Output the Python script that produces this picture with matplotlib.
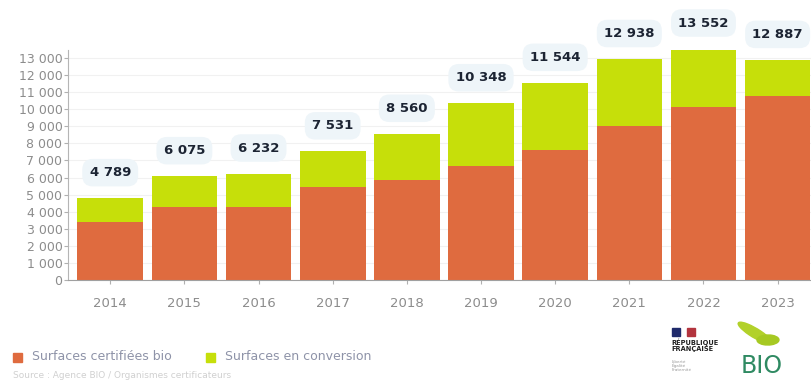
import matplotlib.pyplot as plt
from matplotlib.patches import Rectangle, Ellipse
from matplotlib.ticker import FuncFormatter

# Surfaces bio (ha) par année
years = ["2014", "2015", "2016", "2017", "2018", "2019", "2020", "2021", "2022", "2023"]
certified = [3400, 4270, 4300, 5420, 5850, 6670, 7600, 9000, 10130, 10770]
totals = [4789, 6075, 6232, 7531, 8560, 10348, 11544, 12938, 13552, 12887]
conversion = [t - c for t, c in zip(totals, certified)]

ORANGE = "#df6b3f"
GREEN = "#c6df0a"
GREY = "#8c8c8c"


def fmt_thousands(v):
    return f"{int(v):,}".replace(",", " ")


fig = plt.figure(figsize=(8.11, 3.82), dpi=100)
ax = fig.add_axes([0.0838, 0.267, 0.9162, 0.602])

x = range(len(years))
ax.bar(x, certified, width=0.885, color=ORANGE, zorder=3)
ax.bar(x, conversion, width=0.885, bottom=certified, color=GREEN, zorder=3)

# total value bubbles above each bar
for i, t in enumerate(totals):
    ax.text(i, t + 1500, fmt_thousands(t), ha="center", va="center",
            fontsize=9.5, fontweight="bold", color="#1c2433", clip_on=False,
            bbox=dict(boxstyle="round,pad=0.55,rounding_size=0.8",
                      facecolor="#eef5f9", edgecolor="none"))

ax.set_xlim(-0.57, 9.45)
ax.set_ylim(0, 13470)
ax.set_yticks(range(0, 13001, 1000))
ax.yaxis.set_major_formatter(FuncFormatter(lambda v, p: fmt_thousands(v)))
ax.set_xticks(list(x))
ax.set_xticklabels(years)

ax.grid(axis="y", color="#f1f1f1", linewidth=0.8, zorder=0)
for side in ["top", "right"]:
    ax.spines[side].set_visible(False)
ax.spines["left"].set_color("#b5b5b5")
ax.spines["bottom"].set_color("#a0a0a0")
ax.spines["bottom"].set_zorder(4)
ax.tick_params(axis="y", colors="#b0b0b0", labelcolor=GREY, labelsize=9,
               length=3, pad=1)
ax.tick_params(axis="x", colors="#b0b0b0", labelcolor=GREY, labelsize=9.5,
               length=3, pad=9)

# legend
fig.patches.append(Rectangle((13 / 811, 1 - 362 / 382), 9 / 811, 9 / 382,
                             transform=fig.transFigure, color=ORANGE))
fig.text(32 / 811, 1 - 357 / 382, "Surfaces certifiées bio", fontsize=9,
         color="#8e93a8", va="center")
fig.patches.append(Rectangle((206 / 811, 1 - 362 / 382), 9 / 811, 9 / 382,
                             transform=fig.transFigure, color=GREEN))
fig.text(225 / 811, 1 - 357 / 382, "Surfaces en conversion", fontsize=9,
         color="#8e93a8", va="center")
fig.text(13 / 811, 1 - 375 / 382, "Source : Agence BIO / Organismes certificateurs",
         fontsize=6.5, color="#d0d0d0", va="center")

# République Française block
fig.patches.append(Rectangle((672 / 811, 1 - 336 / 382), 8 / 811, 8 / 382,
                             transform=fig.transFigure, color="#1f2a6b"))
fig.patches.append(Rectangle((687 / 811, 1 - 336 / 382), 8 / 811, 8 / 382,
                             transform=fig.transFigure, color="#b3343e"))
fig.text(671 / 811, 1 - 345 / 382, "RÉPUBLIQUE\nFRANÇAISE", fontsize=4.8,
         fontweight="bold", color="#222222", va="center", linespacing=1.0)
fig.text(672 / 811, 1 - 366 / 382, "Liberté\nÉgalité\nFraternité", fontsize=3,
         color="#999999", va="center", linespacing=1.0)

# Agence BIO logo
fig.patches.append(Ellipse((755 / 811, 1 - 333 / 382), 14 / 811, 26 / 382,
                           angle=35, transform=fig.transFigure, color="#b2d12a"))
fig.patches.append(Ellipse((768 / 811, 1 - 340 / 382), 22 / 811, 10 / 382,
                           angle=20, transform=fig.transFigure, color="#a6c922"))
fig.text(762 / 811, 1 - 366 / 382, "BIO", fontsize=17, color="#2f8a62",
         ha="center", va="center")

fig.savefig("out.png", dpi=100)
